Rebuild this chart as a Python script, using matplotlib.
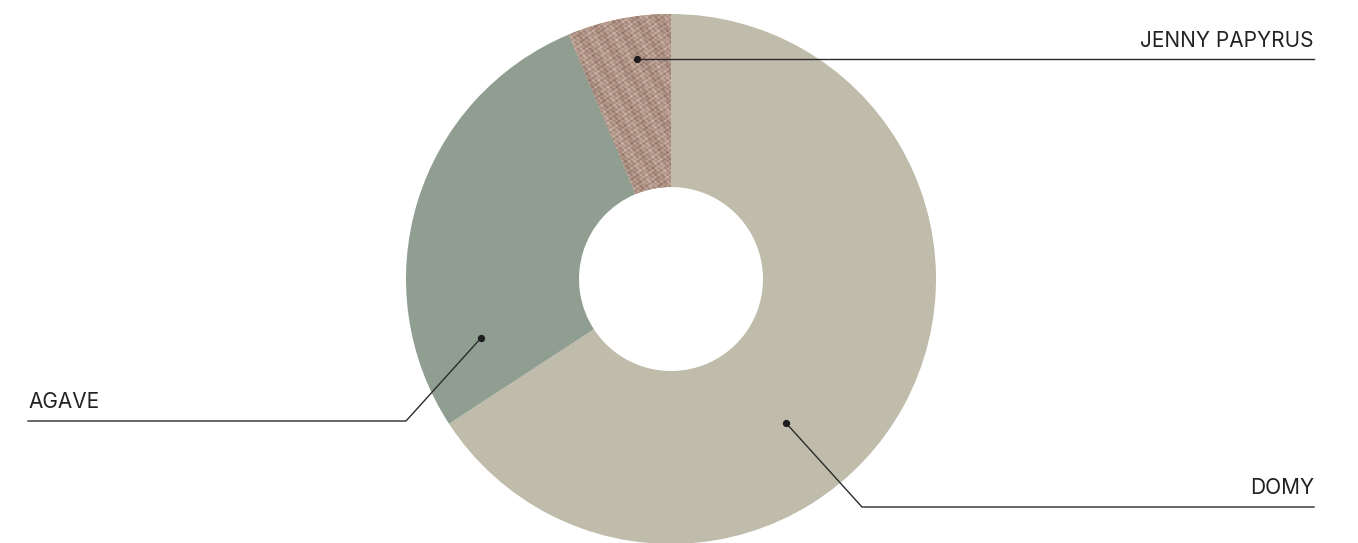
import numpy as np
import matplotlib.pyplot as plt

# data
labels = ["DOMY", "AGAVE", "JENNY PAPYRUS"]
shares = [65.8, 27.9, 6.3]
colors = ["#bfbcab", "#8f9e91", "#a88b7c"]

W, H = 1358, 543
plt.rcParams['font.family'] = ['Inter', 'DejaVu Sans']

fig = plt.figure(figsize=(W / 100, H / 100), dpi=100)
ax = fig.add_axes([0, 0, 1, 1])

cx, cy = 671, H - 279
R, r_in = 265, 92

wedges, _ = ax.pie(shares, colors=colors, startangle=90, counterclock=False,
                   center=(cx, cy), radius=R, frame=True,
                   wedgeprops=dict(width=R - r_in, linewidth=0))
ax.set_xlim(0, W)
ax.set_ylim(0, H)
ax.set_aspect('equal')
ax.axis('off')

# woven fabric texture on the small slice
x0, x1, y0, y1 = 550, 690, H - 200, H - 5
xx, yy = np.meshgrid(np.arange(x0, x1, 0.5), np.arange(y0, y1, 0.5))
weave = (np.sin(2 * np.pi * xx / 6.0) * np.sin(2 * np.pi * yy / 4.5)
         + 0.6 * np.sin(2 * np.pi * (xx * 0.37 + yy * 0.91) / 9.3)
         * np.cos(2 * np.pi * (xx * 0.83 - yy * 0.29) / 7.1)
         + 0.3 * np.sin(2 * np.pi * (xx * 0.61 + yy * 0.43) / 13.7))
base = np.array([176, 148, 134]) / 255.0
light = np.array([222, 200, 188]) / 255.0
dark = np.array([128, 100, 88]) / 255.0
t = (weave - weave.min()) / (weave.max() - weave.min())
img = np.where(t[..., None] > 0.5,
               base + (light - base) * ((t[..., None] - 0.5) * 2),
               dark + (base - dark) * (t[..., None] * 2))
im = ax.imshow(img, extent=(x0, x1, y0, y1), origin='lower',
               interpolation='bilinear', zorder=2)
im.set_clip_path(wedges[2])

# leader lines and labels
line_kw = dict(color="#2b2b2b", lw=1.0, zorder=3)
dot_kw = dict(color="#1e1e1e", s=18, zorder=4)
text_kw = dict(fontsize=15, color="#222222", zorder=4)

# JENNY PAPYRUS
ax.plot([637, 1314], [H - 59, H - 59], **line_kw)
ax.scatter([637], [H - 59], **dot_kw)
ax.text(1314, H - 47, labels[2], ha='right', va='baseline', **text_kw)

# AGAVE
ax.plot([481, 406, 28], [H - 338, H - 421, H - 421], **line_kw)
ax.scatter([481], [H - 338], **dot_kw)
ax.text(28, H - 408, labels[1], ha='left', va='baseline', **text_kw)

# DOMY
ax.plot([786, 862, 1314], [H - 423, H - 507, H - 507], **line_kw)
ax.scatter([786], [H - 423], **dot_kw)
ax.text(1314, H - 494, labels[0], ha='right', va='baseline', **text_kw)

fig.savefig("out.png", dpi=100, facecolor="white")
